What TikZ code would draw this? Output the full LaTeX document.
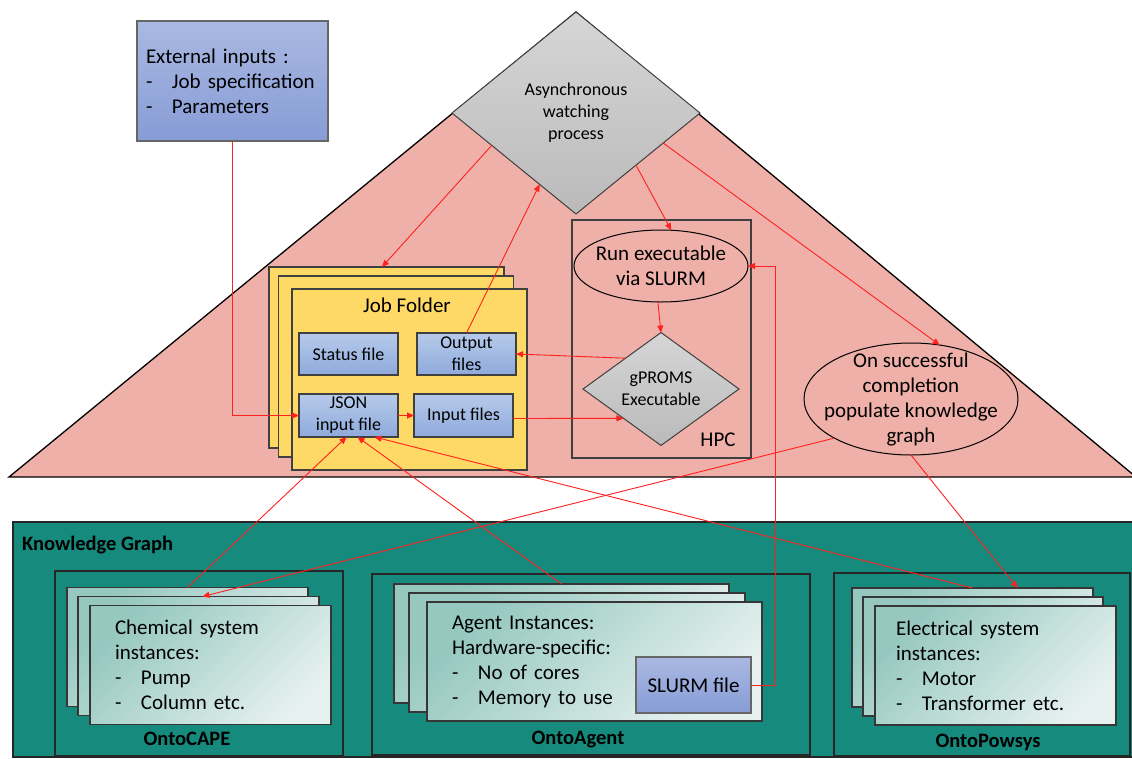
\documentclass[tikz,border=0pt]{standalone}
\usepackage{fontspec}
\setmainfont{Carlito}
\usetikzlibrary{shapes.geometric,arrows.meta,calc}

\definecolor{tri}{HTML}{EEB0A8}
\definecolor{kgteal}{HTML}{178A7E}
\definecolor{folder}{HTML}{FFD966}
\definecolor{fileA}{HTML}{B6CAEA}
\definecolor{fileB}{HTML}{8EAADC}
\definecolor{inA}{HTML}{AAB9E2}
\definecolor{inB}{HTML}{879CD6}
\definecolor{grayA}{HTML}{D6D6D6}
\definecolor{grayB}{HTML}{BABABA}
\definecolor{cardA}{HTML}{96C8C0}
\definecolor{cardB}{HTML}{E6F1EF}
\definecolor{edge}{HTML}{404040}
\definecolor{flow}{HTML}{FF2020}

\newcommand\dashitem[1]{\makebox[26pt][l]{-}#1}

\begin{document}
\begin{tikzpicture}[x=1pt,y=-1pt,
  every node/.style={inner sep=0pt,outer sep=0pt},
  big/.style={font=\fontsize{21}{25}\selectfont},
  small/.style={font=\fontsize{18}{22}\selectfont},
  boldlbl/.style={font=\fontsize{20.5}{24}\selectfont\bfseries},
  redarrow/.style={draw=flow,line width=0.9pt,-{Triangle[length=7pt,width=6pt]}},
  filebox/.style={draw=edge,line width=1.2pt,top color=fileA,bottom color=fileB,
    minimum width=99pt,minimum height=42pt,align=center,small},
  inbox/.style={draw=edge!80,line width=1.2pt,top color=inA,bottom color=inB},
  folderbox/.style={draw=edge,line width=1.5pt,fill=folder,minimum width=235pt,minimum height=181pt},
  graybox/.style={diamond,draw=edge,line width=1pt,top color=grayA,bottom color=grayB,align=center},
  oval/.style={ellipse,draw=black,line width=1pt},
  groupbox/.style={draw=black!85,line width=1.3pt,fill=kgteal},
  card/.style={draw=edge!85!black,line width=1.3pt,top color=cardA,bottom color=cardB,shading angle=45,
    minimum width=241pt,minimum height=119pt}]

\useasboundingbox (0,0) rectangle (1132,758);
\clip (0,0) rectangle (1132,758);

% process area
\draw[fill=tri,line width=1.3pt] (576,12) -- (1136,477) -- (9,477) -- cycle;

\node[graybox,minimum width=248pt,minimum height=202pt,small] (async) at (576,113)
  {Asynchronous\\watching\\process};

% external inputs
\node[inbox,minimum width=191pt,minimum height=120pt,text width=173pt,align=left,big] (ext) at (232.5,81)
  {External inputs :\\\dashitem{Job specification}\\\dashitem{Parameters}};

% job folder stack
\node[folderbox] (jf1) at (386.5,357.5) {};
\node[folderbox] (jf2) at (396,366.5) {};
\node[folderbox] (jf3) at (409.5,379.5) {};
\node[big] (jftitle) at (407,305) {Job Folder};
\node[filebox] (status) at (348.5,354) {Status file};
\node[filebox] (output) at (466.5,354) {Output\\files};
\node[filebox,minimum height=43pt] (json) at (348.5,415.5) {JSON\\input file};
\node[filebox,minimum height=43pt] (input) at (463.5,415.5) {Input files};

% HPC
\node[draw=edge,line width=2pt,minimum width=179pt,minimum height=238pt] (hpc) at (661.5,339) {};
\node[big] (hpclbl) at (718,440) {HPC};
\node[oval,minimum width=174pt,minimum height=72pt] (run) at (661,266) {};
\node[big,align=center] (runtext) at (run.center) {Run executable\\via SLURM};
\node[graybox,minimum width=156pt,minimum height=110pt,small] (gproms) at (661,389) {gPROMS\\Executable};

\node[oval,minimum width=214pt,minimum height=112pt] (done) at (911,399) {};
\node[big,align=center] (donetext) at (911,400)
  {On successful\\completion\\populate knowledge\\graph};

% knowledge graph
\node[groupbox,minimum width=1121pt,minimum height=235pt] (kg) at (573.5,639.5) {};
\node[boldlbl,anchor=west] (kglbl) at (22,545) {Knowledge Graph};

\node[groupbox,minimum width=288pt,minimum height=185pt] (cape) at (199,663.5) {};
\node[card] (capeA) at (187.5,647) {};
\node[card] (capeB) at (198.5,656) {};
\node[card,text width=191pt,align=left,big] (capeC) at (210.5,665)
  {Chemical system\\instances:\\\dashitem{Pump}\\\dashitem{Column etc.}};
\node[boldlbl] (capelbl) at (187,739) {OntoCAPE};

\node[groupbox,minimum width=438pt,minimum height=181pt] (agent) at (591,664.5) {};
\node[card,minimum width=335pt] (agentA) at (561.5,643.5) {};
\node[card,minimum width=336pt] (agentB) at (577,652.5) {};
\node[card,minimum width=335pt,text width=285pt,align=left,big] (agentC) at (594.5,661.5)
  {Agent Instances:\\Hardware-specific:\\\dashitem{No of cores}\\\dashitem{Memory to use}};
\node[inbox,minimum width=115pt,minimum height=56pt,big] (slurm) at (693.5,685) {SLURM file};
\node[boldlbl] (agentlbl) at (578,740) {OntoAgent};

\node[groupbox,minimum width=296pt,minimum height=183pt] (pow) at (982,664.5) {};
\node[card] (powA) at (972.5,647.5) {};
\node[card,minimum width=240pt] (powB) at (983,656.5) {};
\node[card,text width=199pt,align=left,big] (powC) at (995.5,665.5)
  {Electrical system\\instances:\\\dashitem{Motor}\\\dashitem{Transformer etc.}};
\node[boldlbl] (powlbl) at (988,742) {OntoPowsys};

% connectors
\draw[redarrow] (ext.south) |- (json.west);
\draw[redarrow] (async.201.7) -- ([xshift=113pt]jf1.north west);
\draw[redarrow] (output.north) -- (async.243.4);
\draw[redarrow] (async.319.5) -- (run.74);
\draw[redarrow] (async.341.2) -- (done.62.6);
\draw[redarrow] (run.265) -- (gproms.north);
\draw[redarrow] (gproms.139.3) -- (output.east);
\draw[redarrow] ([yshift=-3pt]input.east) -- (gproms.218.3);
\draw[redarrow] (json.east) -- (input.west);
\draw[redarrow] (slurm.east) -- ++(24,0) |- (run.east);
\draw[redarrow] (capeA.north) -- ([xshift=-2pt]json.south);
\draw[redarrow] (agentA.north) -- ([xshift=9pt]json.south);
\draw[redarrow] (powA.north) -- ([xshift=26pt]json.south);
\draw[redarrow] (done.207.8) -- ([xshift=4pt]capeB.north);
\draw[redarrow] (done.south) -- ([xshift=45pt]powA.north);
\end{tikzpicture}
\end{document}
